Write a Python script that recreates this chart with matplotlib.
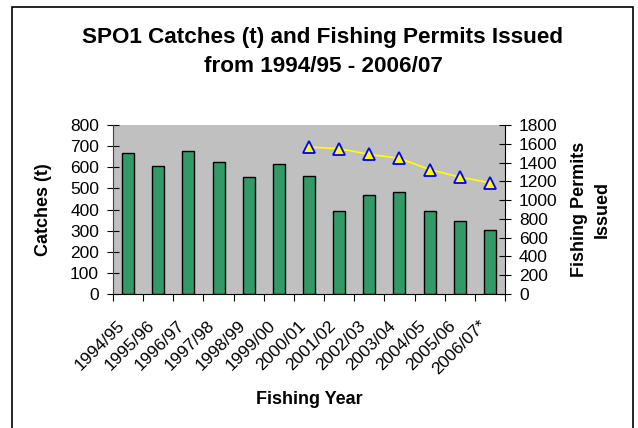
import numpy as np
import matplotlib
matplotlib.use("Agg")
import matplotlib.pyplot as plt
import matplotlib.transforms as mtransforms
from matplotlib.patches import Rectangle

plt.rcParams['font.family'] = ['Liberation Sans', 'DejaVu Sans']

# data
years = ["1994/95", "1995/96", "1996/97", "1997/98", "1998/99", "1999/00", "2000/01",
         "2001/02", "2002/03", "2003/04", "2004/05", "2005/06", "2006/07*"]
catches = [668, 605, 679, 627, 552, 614, 557, 391, 468, 484, 391, 347, 301]
permit_years = years[6:]
permits = [1565, 1548, 1487, 1445, 1325, 1245, 1185]

fig = plt.figure(figsize=(6.38, 4.28), dpi=100)
# outer frame like the spreadsheet chart border
fig.patches.append(Rectangle((12 / 638, -0.05), (633 - 12) / 638, 1.05 - 7 / 428,
                             transform=fig.transFigure, fill=False, edgecolor='black', lw=1.2))

ax = fig.add_axes([113 / 638, 1 - 294 / 428, (505 - 113) / 638, (294 - 125) / 428])
ax.set_facecolor('#C0C0C0')
x = np.arange(len(years))
ax.bar(x, catches, width=0.4, color='#339966', edgecolor='black', lw=1, zorder=2)
ax.set_xlim(-0.5, len(years) - 0.5)
ax.set_ylim(0, 800)
ax.set_yticks(np.arange(0, 801, 100))
ax.tick_params(axis='y', direction='inout', length=8, labelsize=12.5, pad=6)

# boundary ticks, labels at the category centres
ax.set_xticks(np.arange(-0.5, len(years), 1))
ax.set_xticklabels([])
ax.tick_params(axis='x', which='major', direction='out', length=5)
ax.set_xticks(x, minor=True)
ax.set_xticklabels(years, minor=True, rotation=45, ha='right', va='center',
                   rotation_mode='anchor', fontsize=12.5)
ax.tick_params(axis='x', which='minor', length=0, pad=21)
shift = mtransforms.ScaledTranslation(-6 / 100, 0, fig.dpi_scale_trans)
for lab in ax.get_xticklabels(minor=True):
    lab.set_transform(lab.get_transform() + shift)

for s in ['top', 'right']:
    ax.spines[s].set_visible(False)
ax.spines['left'].set_color('#404040')
ax.set_ylabel("Catches (t)", fontsize=13, fontweight='bold', labelpad=13)
ax.set_xlabel("Fishing Year", fontsize=13, fontweight='bold', labelpad=10)

ax2 = ax.twinx()
px = [years.index(p) for p in permit_years]
ax2.plot(px, permits, color='#FFFF00', lw=1.2, marker='^', markersize=8,
         markerfacecolor='#FFFF00', markeredgecolor='#0000FF', markeredgewidth=1.3, zorder=3)
ax2.set_ylim(0, 1800)
ax2.set_yticks(np.arange(0, 1801, 200))
ax2.tick_params(axis='y', direction='inout', length=8, labelsize=12.5, pad=6)
for s in ['top', 'left', 'bottom']:
    ax2.spines[s].set_visible(False)
ax2.set_ylabel("Fishing Permits\nIssued", fontsize=13, fontweight='bold',
               labelpad=10, linespacing=1.4)

fig.text(323 / 638, 1 - 52 / 428, "SPO1 Catches (t) and Fishing Permits Issued\nfrom 1994/95 - 2006/07",
         ha='center', va='center', fontsize=16.2, fontweight='bold', linespacing=1.45)

fig.savefig("out.png", dpi=100)
